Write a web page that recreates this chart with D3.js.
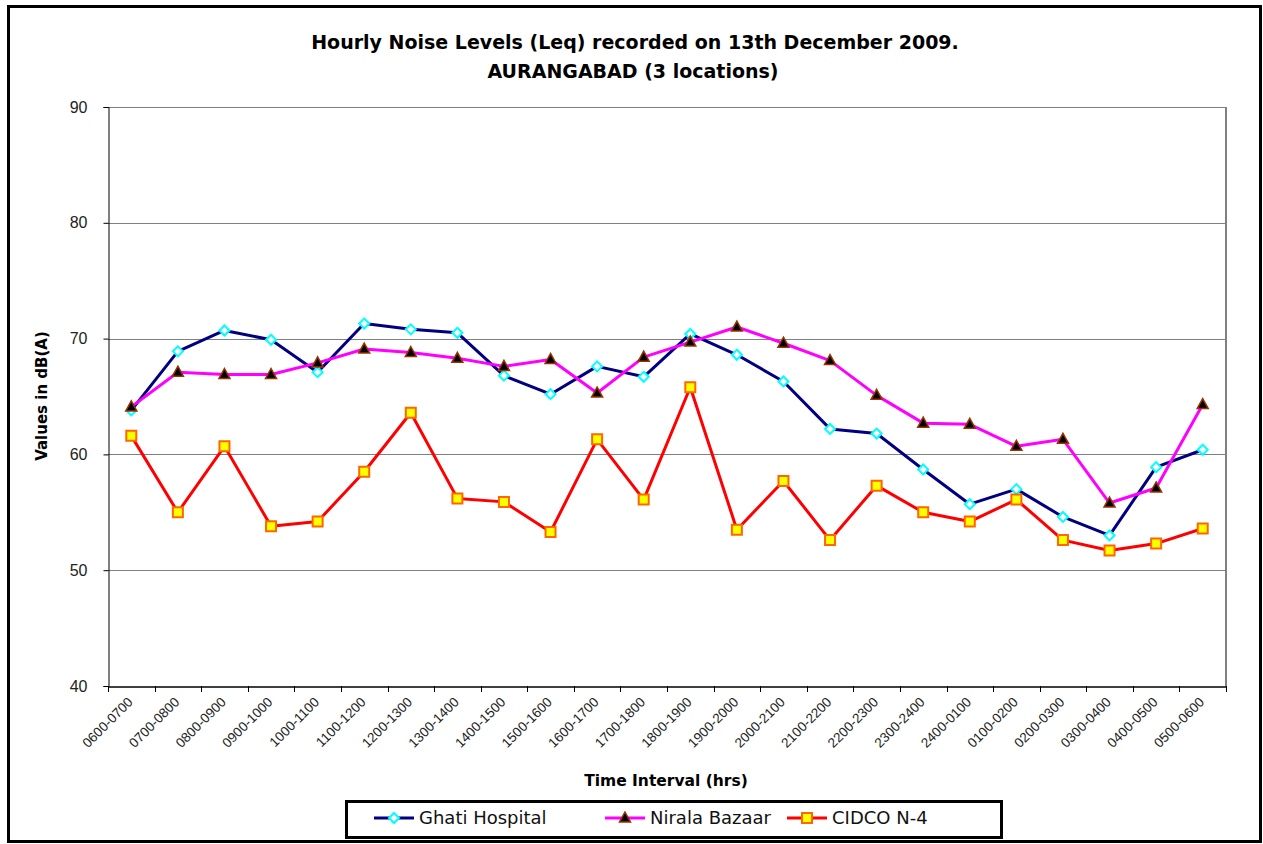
<!DOCTYPE html>
<html>
<head>
<meta charset="utf-8">
<script src="https://cdn.jsdelivr.net/npm/d3@7"></script>
<style>
body { margin: 0; background: #fff; }
svg { font-family: "DejaVu Sans", sans-serif; }
.grid line { stroke: #808080; stroke-width: 1; }
</style>
</head>
<body>
<div id="chart"></div>
<script>
// time slots along the x axis
var intervals = ["0600-0700","0700-0800","0800-0900","0900-1000","1000-1100","1100-1200",
  "1200-1300","1300-1400","1400-1500","1500-1600","1600-1700","1700-1800",
  "1800-1900","1900-2000","2000-2100","2100-2200","2200-2300","2300-2400",
  "2400-0100","0100-0200","0200-0300","0300-0400","0400-0500","0500-0600"];

// Leq values in dB(A)
var ghati  = [63.8,68.9,70.7,69.9,67.1,71.3,70.8,70.5,66.8,65.2,67.6,66.7,
              70.4,68.6,66.3,62.2,61.8,58.7,55.7,57.0,54.6,53.0,58.9,60.4];
var nirala = [64.1,67.1,66.9,66.9,67.9,69.1,68.8,68.3,67.6,68.2,65.3,68.4,
              69.7,71.0,69.6,68.1,65.1,62.7,62.6,60.7,61.3,55.8,57.1,64.3];
var cidco  = [61.6,55.0,60.7,53.8,54.2,58.5,63.6,56.2,55.9,53.3,61.3,56.1,
              65.8,53.5,57.7,52.6,57.3,55.0,54.2,56.1,52.6,51.7,52.3,53.6];

var yTicks = [40,50,60,70,80,90];

var series = [
  {name: "Ghati Hospital", values: ghati,  line: "#000080", marker: "diamond",  fill: "#ffffff", stroke: "#00ffff"},
  {name: "Nirala Bazaar",  values: nirala, line: "#ff00ff", marker: "triangle", fill: "#000000", stroke: "#993300"},
  {name: "CIDCO N-4",      values: cidco,  line: "#ff0000", marker: "square",   fill: "#ffff00", stroke: "#ff6600"}
];

var width = 1263, height = 844;
var plot = {left: 108, top: 107, right: 1226, bottom: 686};

var svg = d3.select("#chart").append("svg")
  .attr("width", width)
  .attr("height", height);

// outer frame
svg.append("rect")
  .attr("x", 8.5).attr("y", 6.5)
  .attr("width", 1252).attr("height", 835)
  .attr("fill", "#fff").attr("stroke", "#000").attr("stroke-width", 3);

var x = d3.scaleBand().domain(intervals).range([plot.left, plot.right]);
var y = d3.scaleLinear().domain([40, 90]).range([plot.bottom, plot.top]);

// gridlines
svg.append("g").attr("class", "grid")
  .selectAll("line").data(yTicks.slice(1)).enter().append("line")
  .attr("x1", plot.left).attr("x2", plot.right)
  .attr("y1", function(d) { return Math.round(y(d)) + 0.5; })
  .attr("y2", function(d) { return Math.round(y(d)) + 0.5; })
  .attr("stroke", function(d) { return d == 90 ? "#333" : "#808080"; });

// right edge of plot area
svg.append("line")
  .attr("x1", plot.right).attr("x2", plot.right)
  .attr("y1", plot.top).attr("y2", plot.bottom)
  .attr("stroke", "#808080").attr("stroke-width", 2);

// y axis
var yAxis = svg.append("g")
  .attr("transform", "translate(" + (plot.left + 0.5) + ",0)")
  .call(d3.axisLeft(y).tickValues(yTicks).tickSize(5).tickPadding(16));
yAxis.select(".domain").attr("stroke", "#000");
yAxis.selectAll("text").attr("font-size", 16).attr("fill", "#222");

// x axis, ticks on category boundaries
var xAxis = svg.append("g")
  .attr("transform", "translate(0," + (plot.bottom + 0.5) + ")")
  .call(d3.axisBottom(x).tickSize(0).tickSizeOuter(0));
xAxis.select(".domain").attr("stroke", "#000").attr("stroke-width", 1.5);
xAxis.selectAll(".tick text")
  .attr("font-size", 13.5)
  .attr("fill", "#222")
  .attr("text-anchor", "end")
  .attr("y", 0)
  .attr("dy", "0.35em")
  .attr("transform", "translate(-1,13) rotate(-45)");

var bounds = intervals.map(function(d) { return x(d); }).concat([plot.right]);
svg.append("g").selectAll("line").data(bounds).enter().append("line")
  .attr("x1", function(d) { return Math.round(d) + 0.5; })
  .attr("x2", function(d) { return Math.round(d) + 0.5; })
  .attr("y1", plot.bottom).attr("y2", plot.bottom + 6)
  .attr("stroke", "#000");

var cx = function(i) { return x(intervals[i]) + x.bandwidth() / 2; };

function markerPath(type) {
  if (type == "diamond") return "M0,-5L5,0L0,5L-5,0Z";
  if (type == "triangle") return "M0,-6L5.5,4L-5.5,4Z";
  return "M-5,-5H5V5H-5Z";
}

// series lines + markers
series.forEach(function(s) {
  var line = d3.line()
    .x(function(d, i) { return cx(i); })
    .y(function(d) { return y(d); });

  svg.append("path")
    .datum(s.values)
    .attr("d", line)
    .attr("fill", "none")
    .attr("stroke", s.line)
    .attr("stroke-width", 3)
    .attr("stroke-linejoin", "round");

  svg.append("g").selectAll("path").data(s.values).enter().append("path")
    .attr("transform", function(d, i) { return "translate(" + cx(i) + "," + y(d) + ")"; })
    .attr("d", markerPath(s.marker))
    .attr("fill", s.fill)
    .attr("stroke", s.stroke)
    .attr("stroke-width", s.marker == "triangle" ? 1.5 : 2);
});

// titles
svg.append("text")
  .attr("x", 635).attr("y", 49)
  .attr("text-anchor", "middle")
  .attr("font-size", 19).attr("font-weight", "bold")
  .text("Hourly Noise Levels (Leq) recorded on 13th December 2009.");
svg.append("text")
  .attr("x", 633).attr("y", 78)
  .attr("text-anchor", "middle")
  .attr("font-size", 19).attr("font-weight", "bold")
  .text("AURANGABAD (3 locations)");

svg.append("text")
  .attr("transform", "translate(47,396) rotate(-90)")
  .attr("text-anchor", "middle")
  .attr("font-size", 15).attr("font-weight", "bold")
  .text("Values in dB(A)");

svg.append("text")
  .attr("x", 666).attr("y", 786)
  .attr("text-anchor", "middle")
  .attr("font-size", 15.5).attr("font-weight", "bold")
  .text("Time Interval (hrs)");

// legend
svg.append("rect")
  .attr("x", 346.5).attr("y", 801.5)
  .attr("width", 655).attr("height", 36)
  .attr("fill", "#fff").attr("stroke", "#000").attr("stroke-width", 3);

var legendX = [374, 605, 787];
var leg = svg.append("g").selectAll("g").data(series).enter().append("g")
  .attr("transform", function(d, i) { return "translate(" + legendX[i] + ",818)"; });
leg.append("line")
  .attr("x1", 0).attr("x2", 40)
  .attr("stroke", function(d) { return d.line; })
  .attr("stroke-width", 3);
leg.append("path")
  .attr("transform", "translate(20,0)")
  .attr("d", function(d) { return markerPath(d.marker); })
  .attr("fill", function(d) { return d.fill; })
  .attr("stroke", function(d) { return d.stroke; })
  .attr("stroke-width", function(d) { return d.marker == "triangle" ? 1.5 : 2; });
leg.append("text")
  .attr("x", 45).attr("dy", "0.35em")
  .attr("font-size", 18)
  .attr("fill", "#111")
  .text(function(d) { return d.name; });
</script>
</body>
</html>
